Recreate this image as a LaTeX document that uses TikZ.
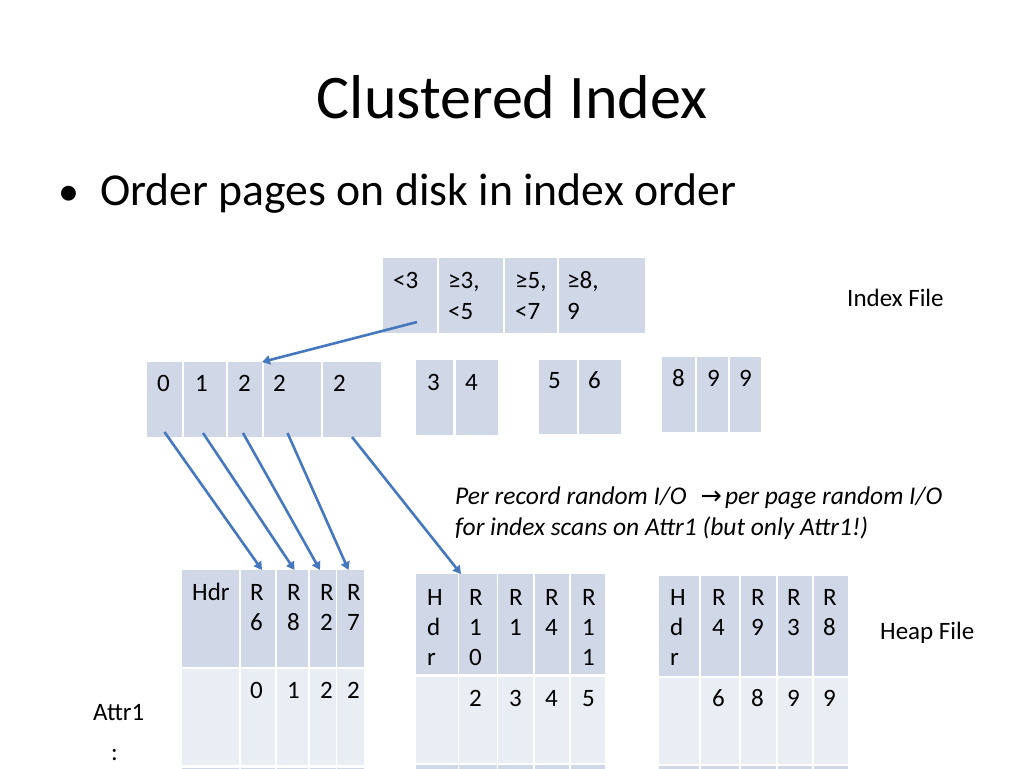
\documentclass[tikz,border=0pt]{standalone}
\usepackage{fontspec}
\setmainfont{Carlito}
\newfontfamily\arrowfont{DejaVu Sans}
\usepackage{xcolor}
\usepackage{tikz}
\usetikzlibrary{arrows.meta,fit}

\definecolor{cellblue}{RGB}{208,216,232}
\definecolor{celllight}{RGB}{233,237,244}
\definecolor{arrowblue}{RGB}{70,120,190}

\tikzset{
    cell/.style={fill=cellblue, draw=none, inner sep=0pt, outer sep=0pt},
    lightcell/.style={cell, fill=celllight},
    txt/.style={inner sep=0pt, anchor=base west, align=left,
        font=\fontsize{25}{30}\selectfont},
    ptr/.style={arrowblue, line width=2.6pt,
        -{Triangle[length=8pt,width=9pt]}}
}

\begin{document}
\begin{tikzpicture}[x=1pt,y=-1pt]
    \useasboundingbox (0,0) rectangle (1024,768);

    % title and bullet
    \node[anchor=base, inner sep=0pt, font=\fontsize{62}{70}\selectfont] (title) at (512,118) {Clustered Index};
    \node[anchor=base west, inner sep=0pt, font=\fontsize{42}{54}\selectfont] (bullet) at (58,205) {•};
    \node[anchor=base west, inner sep=0pt, font=\fontsize{45.7}{54}\selectfont] (point) at (100,205) {Order pages on disk in index order};

    % index file (base anchor of a multi-line node sits on its last line)
    \node[cell, fit={(383,258) (437,333)}] (ix1) {};
    \node[cell, fit={(439,258) (503,333)}] (ix2) {};
    \node[cell, fit={(505,258) (557,333)}] (ix3) {};
    \node[cell, fit={(559,258) (645,333)}] (ix4) {};
    \node[txt] (ixt1) at (393,288) {<3};
    \node[txt, font=\fontsize{25}{31}\selectfont] (ixt2) at (448,319) {≥3,\\<5};
    \node[txt, font=\fontsize{25}{31}\selectfont] (ixt3) at (515,319) {≥5,\\<7};
    \node[txt, font=\fontsize{25}{31}\selectfont] (ixt4) at (567,319) {≥8,\\9};
    \node[txt] (idxlbl) at (847,306) {Index File};

    % leaf pages
    \foreach \n/\a/\b in {1/147/182, 2/184/226, 3/228/262, 4/264/321, 5/323/381} {
        \node[cell, fit={(\a,362) (\b,437)}] (la\n) {};
    }
    \foreach \n/\a/\b in {1/416/453, 2/456/498} {
        \node[cell, fit={(\a,360) (\b,435)}] (lb\n) {};
    }
    \foreach \n/\a/\b in {1/539/577, 2/579/621} {
        \node[cell, fit={(\a,360) (\b,434)}] (lc\n) {};
    }
    \foreach \n/\a/\b in {1/662/695, 2/697/728, 3/730/761} {
        \node[cell, fit={(\a,357) (\b,432)}] (ld\n) {};
    }
    \foreach \n/\x/\t in {1/157/0, 2/195/1, 3/238/2, 4/273/2, 5/333/2} {
        \node[txt] (lat\n) at (\x,391) {\t};
    }
    \node[txt] (lbt1) at (427,390) {3};
    \node[txt] (lbt2) at (465,390) {4};
    \node[txt] (lct1) at (548,388) {5};
    \node[txt] (lct2) at (588,388) {6};
    \node[txt] (ldt1) at (672,386) {8};
    \node[txt] (ldt2) at (707,386) {9};
    \node[txt] (ldt3) at (739,386) {9};

    % heap pages
    \foreach \n/\a/\b in {0/182/239, 1/241/275, 2/277/308, 3/310/336, 4/337/364} {
        \node[cell, fit={(\a,570) (\b,667)}] (h1a\n) {};
        \node[lightcell, fit={(\a,669) (\b,765)}] (h1b\n) {};
        \node[cell, fit={(\a,768) (\b,800)}] (h1c\n) {};
    }
    \foreach \n/\a/\b in {0/416/458, 1/459/497, 2/498/533, 3/535/569, 4/571/605} {
        \node[cell, fit={(\a,574) (\b,674)}] (h2a\n) {};
        \node[lightcell, fit={(\a,677) (\b,763)}] (h2b\n) {};
        \node[cell, fit={(\a,765) (\b,800)}] (h2c\n) {};
    }
    \foreach \n/\a/\b in {0/659/699, 1/701/739, 2/741/776, 3/778/812, 4/814/848} {
        \node[cell, fit={(\a,576) (\b,676)}] (h3a\n) {};
        \node[lightcell, fit={(\a,678) (\b,764)}] (h3b\n) {};
        \node[cell, fit={(\a,766) (\b,800)}] (h3c\n) {};
    }

    \node[txt] (h1t0) at (192,600) {Hdr};
    \foreach \n/\x/\r/\v in {1/250/6/0, 2/287/8/1, 3/320/2/2, 4/347/7/2} {
        \node[txt] (h1t\n) at (\x,630) {R\\\r};
        \node[txt] (h1v\n) at (\x,698) {\v};
    }
    \node[txt] (h2t0) at (427,665) {H\\d\\r};
    \foreach \n/\x/\y/\r/\v in {1/469/665/{1\\0}/2, 2/509/635/1/3, 3/545/635/4/4, 4/582/665/{1\\1}/5} {
        \node[txt] (h2t\n) at (\x,\y) {R\\\r};
        \node[txt] (h2v\n) at (\x,706) {\v};
    }
    \node[txt] (h3t0) at (670,665) {H\\d\\r};
    \foreach \n/\x/\r/\v in {1/712/4/6, 2/751/9/8, 3/787/3/9, 4/823/8/9} {
        \node[txt] (h3t\n) at (\x,635) {R\\\r};
        \node[txt] (h3v\n) at (\x,706) {\v};
    }
    \node[txt] (heaplbl) at (880,639) {Heap File};
    \node[txt] (attr) at (93,720) {Attr1};
    \node[txt] (more) at (111,760) {:};

    % note
    \node[txt, font=\fontsize{25.5}{31}\selectfont\itshape] (note) at (455,535)
        {Per record random I/O\hspace{14pt}{\arrowfont\upshape →}\hspace{3pt}per page random I/O\\for index scans on Attr1 (but only Attr1!)};

    % pointers
    \draw[ptr] ([xshift=7pt,yshift=11pt]ix1.south) -- (la3.north east);
    \draw[ptr] ([yshift=5pt]la1.south) -- ([xshift=4pt]h1a1.north);
    \draw[ptr] ([xshift=-2pt,yshift=4pt]la2.south) -- ([xshift=2pt]h1a2.north);
    \draw[ptr] ([xshift=-2pt,yshift=4pt]la3.south) -- ([xshift=-3pt]h1a3.north);
    \draw[ptr] ([xshift=-5pt,yshift=4pt]la4.south) -- ([xshift=-2pt]h1a4.north);
    \draw[ptr] (la5.south) -- ([xshift=2pt]h2a1.north west);
\end{tikzpicture}
\end{document}
